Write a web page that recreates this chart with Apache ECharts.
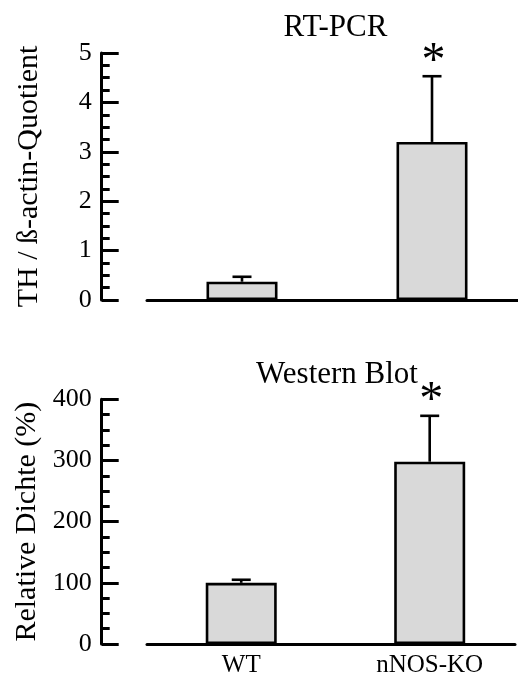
<!DOCTYPE html>
<html>
<head>
<meta charset="utf-8">
<script src="https://cdn.jsdelivr.net/npm/echarts@6/dist/echarts.min.js"></script>
<style>
html,body{margin:0;padding:0;background:#fff;}
#c{width:518px;height:678px;}
</style>
</head>
<body>
<div id="c"></div>
<script>
// ---- data ----
const categories = ['WT', 'nNOS-KO'];
const pcrTitle = 'RT-PCR';
const pcrYLabel = 'TH / ß-actin-Quotient';
const pcrMeans = [0.37, 3.2];
const pcrErrors = [0.1, 1.33];
const pcrSignif = ['', '*'];
const wbTitle = 'Western Blot';
const wbYLabel = 'Relative Dichte (%)';
const wbMeans = [100, 298];
const wbErrors = [5, 75];
const wbSignif = ['', '*'];

const FONT = "'Liberation Serif', 'Times New Roman', serif";

function barData(means) {
  return means.map((m, i) => [i, m]);
}

function errorSeries(xi, yi, means, errs, sig) {
  return {
    type: 'custom',
    xAxisIndex: xi, yAxisIndex: yi,
    data: means.map((m, i) => [i, m, m + errs[i], sig[i]]),
    z: 1,
    renderItem: function (params, api) {
      const x = api.value(0);
      const p0 = api.coord([x, api.value(1)]);
      const p1 = api.coord([x, api.value(2)]);
      const capHalf = 9.5;
      const children = [
        {type: 'line', shape: {x1: p0[0], y1: p0[1], x2: p1[0], y2: p1[1]}, style: {stroke: '#000', lineWidth: 2.6}},
        {type: 'line', shape: {x1: p1[0] - capHalf, y1: p1[1], x2: p1[0] + capHalf, y2: p1[1]}, style: {stroke: '#000', lineWidth: 2.6}}
      ];
      const s = api.value(3);
      if (s) {
        children.push({type: 'text', x: p1[0] + 1.5, y: p1[1] - 14, style: {text: s, fill: '#000', font: '48px ' + FONT, align: 'center', verticalAlign: 'middle'}});
      }
      return {type: 'group', children: children};
    }
  };
}

function yAxisCfg(gi, max, interval, name) {
  return {
    type: 'value', gridIndex: gi, min: 0, max: max, interval: interval,
    offset: 45.3,
    name: name, nameLocation: 'middle', nameGap: 58, nameRotate: 90,
    nameTextStyle: {fontFamily: FONT, fontSize: 30, color: '#000'},
    axisLine: {show: true, onZero: false, lineStyle: {color: '#000', width: 3}},
    axisTick: {show: true, inside: true, length: 17, lineStyle: {color: '#000', width: 3}},
    minorTick: {show: true, splitNumber: 4, length: 8, lineStyle: {color: '#000', width: 3}},
    axisLabel: {fontFamily: FONT, fontSize: 26, color: '#000', margin: 10},
    splitLine: {show: false}
  };
}

function xAxisCfg(gi, showLabel) {
  return {
    type: 'value', gridIndex: gi, min: -0.5, max: 1.4526, interval: 0.5,
    axisLine: {show: true, onZero: false, lineStyle: {color: '#000', width: 3}},
    axisTick: {show: false},
    axisLabel: {
      show: showLabel, fontFamily: FONT, fontSize: 25, color: '#000', margin: 9,
      showMinLabel: true, showMaxLabel: true,
      formatter: function (v) {
        const i = Math.round(v);
        return (Math.abs(v - i) < 1e-6 && categories[i] !== undefined) ? categories[i] : '';
      }
    },
    splitLine: {show: false}
  };
}

const barStyle = {color: '#d9d9d9', borderColor: '#000', borderWidth: 2.6};

const option = {
  animation: false,
  backgroundColor: '#fff',
  title: [
    {text: pcrTitle, left: 330.5, top: 7, textAlign: 'center', textStyle: {fontFamily: FONT, fontSize: 31, fontWeight: 'normal', color: '#000'}},
    {text: wbTitle, left: 332, top: 354, textAlign: 'center', textStyle: {fontFamily: FONT, fontSize: 31, fontWeight: 'normal', color: '#000'}}
  ],
  grid: [
    {left: 147, right: 0, top: 53, height: 247},
    {left: 147, right: 0, top: 399.3, height: 247.4}
  ],
  xAxis: [xAxisCfg(0, false), xAxisCfg(1, true)],
  yAxis: [yAxisCfg(0, 5, 1, pcrYLabel), yAxisCfg(1, 400, 100, wbYLabel)],
  series: [
    {type: 'bar', xAxisIndex: 0, yAxisIndex: 0, data: barData(pcrMeans), barWidth: 71, itemStyle: barStyle, z: 2},
    errorSeries(0, 0, pcrMeans, pcrErrors, pcrSignif),
    {type: 'bar', xAxisIndex: 1, yAxisIndex: 1, data: barData(wbMeans), barWidth: 71, itemStyle: barStyle, z: 2},
    errorSeries(1, 1, wbMeans, wbErrors, wbSignif)
  ]
};

const chart = echarts.init(document.getElementById('c'), null, {renderer: 'canvas'});
chart.setOption(option);
</script>
</body>
</html>
